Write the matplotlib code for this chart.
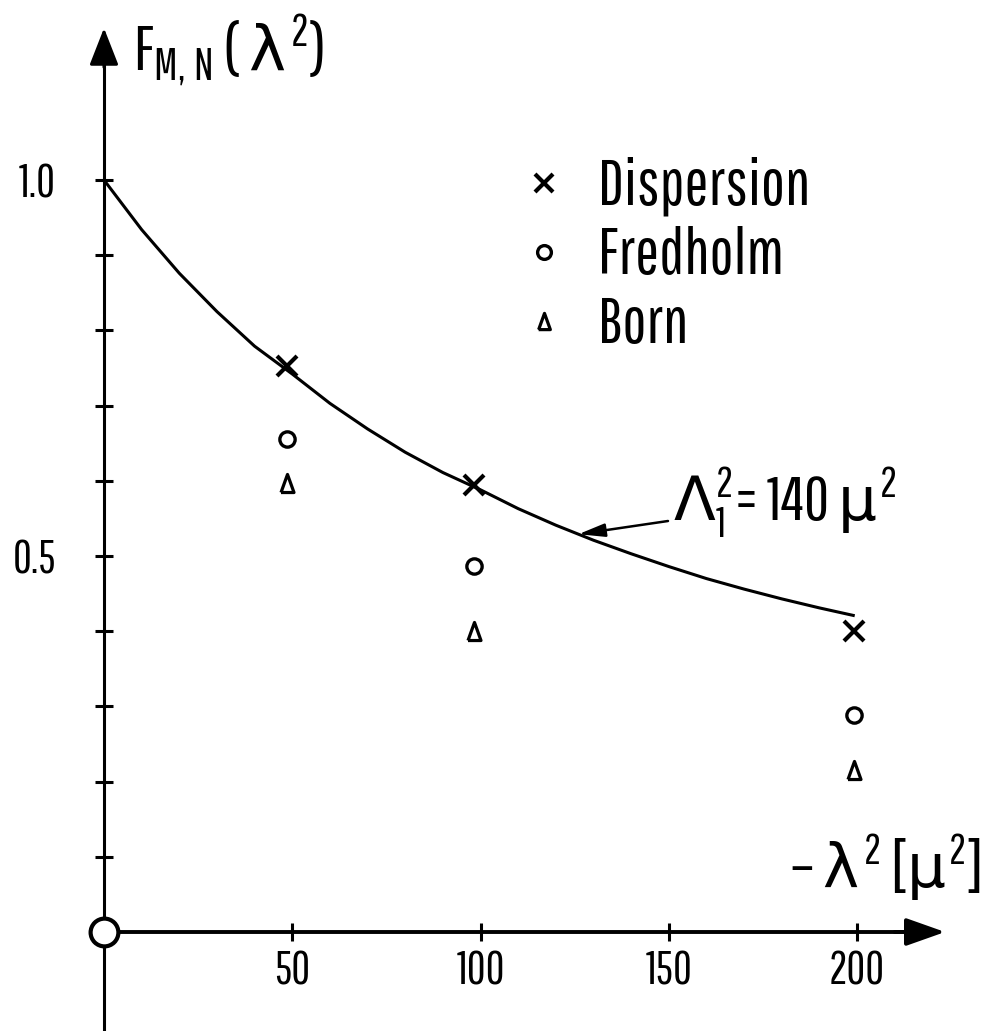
import numpy as np
import matplotlib
matplotlib.use("Agg")
import matplotlib.pyplot as plt
from matplotlib import font_manager

# data
lam2 = [48.5, 98.3, 199.2]
dispersion = [0.753, 0.595, 0.400]
fredholm = [0.656, 0.487, 0.288]
born = [0.597, 0.400, 0.215]

# solid curve (Lambda_1^2 = 140 mu^2)
curve_x = [0, 10, 20, 30, 40, 50, 60, 70, 80, 90, 100, 110, 120, 130, 140, 150, 160, 170, 180, 190, 199]
curve_y = [1.0, 0.934, 0.876, 0.825, 0.779, 0.742, 0.703, 0.669, 0.638, 0.611, 0.588, 0.563,
           0.541, 0.521, 0.503, 0.486, 0.470, 0.456, 0.443, 0.431, 0.421]

yticks = [0.1, 0.2, 0.3, 0.4, 0.5, 0.6, 0.7, 0.8, 0.9, 1.0]
ytick_labels = ["", "", "", "", "0.5", "", "", "", "", "1.0"]
xticks = [50, 100, 150, 200]
xtick_labels = ["50", "100", "150", "200"]

# narrow DIN-like font if there is one, greek letters from DejaVu via mathtext
names = {f.name for f in font_manager.fontManager.ttflist}
cands = ["Pathway Gothic One", "Abel", "Barlow Condensed", "Roboto Condensed", "Liberation Sans Narrow", "DejaVu Sans"]
base = next(c for c in cands if c in names)
plt.rcParams["font.family"] = [base, "DejaVu Sans"]
plt.rcParams["mathtext.fontset"] = "custom"
plt.rcParams["mathtext.rm"] = "DejaVu Sans"
plt.rcParams["mathtext.it"] = "DejaVu Sans"

W, H = 989, 1031
X0, Y0 = 104, 932          # pixel position of the origin (from top left)
SX, SY = 188.25 / 50, 752  # pixels per data unit


def px(x, y):
    return (x - X0) / SX, (Y0 - y) / SY


fig = plt.figure(figsize=(W / 100, H / 100), dpi=100)
ax = fig.add_axes([0, 0, 1, 1])
ax.set_xlim(-X0 / SX, (W - X0) / SX)
ax.set_ylim(-(H - Y0) / SY, Y0 / SY)
ax.patch.set_visible(False)

for s in ["top", "right"]:
    ax.spines[s].set_visible(False)
ax.spines["left"].set_position(("data", 0))
ax.spines["bottom"].set_position(("data", 0))
ax.spines["left"].set_bounds(-0.14, 1.17)
ax.spines["bottom"].set_bounds(0, 216)
ax.spines["left"].set_linewidth(2.2)
ax.spines["bottom"].set_linewidth(2.8)

ax.set_yticks(yticks)
ax.set_yticklabels(ytick_labels)
ax.set_xticks(xticks)
ax.set_xticklabels(xtick_labels)
ax.tick_params(axis="y", direction="inout", length=13, width=2.2, pad=28, labelsize=33)
ax.tick_params(axis="x", direction="inout", length=13, width=2.2, pad=6, labelsize=33)

# arrow heads on the axes
ax.annotate("", xy=(0, 1.202), xytext=(0, 1.15),
            arrowprops=dict(arrowstyle="-|>,head_length=2.3,head_width=0.9", color="black",
                            lw=2.2, shrinkA=0, shrinkB=0), annotation_clip=False)
ax.annotate("", xy=(223.4, 0), xytext=(210, 0),
            arrowprops=dict(arrowstyle="-|>,head_length=2.4,head_width=0.85", color="black",
                            lw=2.8, shrinkA=0, shrinkB=0), annotation_clip=False)

# origin circle
ax.plot([0], [0], marker="o", ms=20, mfc="white", mec="black", mew=3, clip_on=False, zorder=5)

ax.plot(curve_x, curve_y, color="black", lw=2.2)

tri = [(-0.36, -0.5), (0.36, -0.5), (0.0, 0.5), (-0.36, -0.5)]
ax.plot(lam2, dispersion, ls="none", marker="x", ms=15, mew=3, color="black", label="Dispersion")
ax.plot(lam2, fredholm, ls="none", marker="o", ms=11, mew=2.4, mfc="white", mec="black", label="Fredholm")
ax.plot(lam2, born, ls="none", marker=tri, ms=13, mew=2.3, mfc="white", mec="black", label="Born")

ax.legend(loc="upper left", bbox_to_anchor=px(531, 157), bbox_transform=ax.transData,
          frameon=False, fontsize=46, handlelength=0.4, handletextpad=0.65, labelspacing=0.15,
          borderpad=0, borderaxespad=0, markerscale=0.9)

# axis labels
ax.text(*px(133, 70), r"F$_{\mathregular{M,N}}$ ( $\lambda^{\mathregular{2}}$)",
        fontsize=45, ha="left", va="baseline")
ax.text(*px(980, 888), r"– $\lambda^{\mathregular{2}}$ [$\mu^{\mathregular{2}}$]",
        fontsize=44, ha="right", va="baseline")

# annotation of the curve
tip_x = 126
tip_y = np.interp(tip_x, curve_x, curve_y)
ax.annotate("", xy=(tip_x, tip_y), xytext=px(668, 521),
            arrowprops=dict(arrowstyle="-|>,head_length=1.6,head_width=0.4", color="black",
                            lw=1.8, shrinkA=0, shrinkB=0))
ax.text(*px(673, 522), r"$\Lambda_{\mathregular{1}}^{\mathregular{2}}$= 140 $\mu^{\mathregular{2}}$",
        fontsize=44, ha="left", va="baseline")

fig.savefig("out.png", dpi=100)
